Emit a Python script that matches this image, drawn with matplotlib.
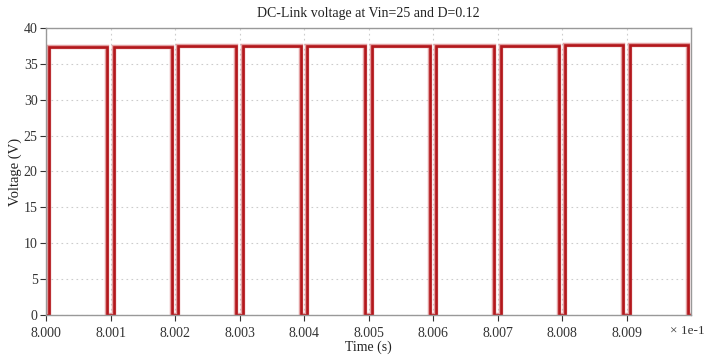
import numpy as np
import matplotlib
matplotlib.use("Agg")
import matplotlib.pyplot as plt

# Data
period_starts = [0.8000, 0.8001, 0.8002, 0.8003, 0.8004, 0.8005, 0.8006, 0.8007, 0.8008, 0.8009]
high_levels = [37.40, 37.42, 37.45, 37.47, 37.50, 37.52, 37.54, 37.56, 37.58, 37.62]
low_level = 0.0
low_half_width = 0.000005  # half-width of the zero-voltage notch (s)
x_tick_values = [0.8000, 0.8001, 0.8002, 0.8003, 0.8004, 0.8005, 0.8006, 0.8007, 0.8008, 0.8009]
x_tick_labels = ["8.000", "8.001", "8.002", "8.003", "8.004", "8.005", "8.006", "8.007", "8.008", "8.009"]
y_ticks = [0, 5, 10, 15, 20, 25, 30, 35, 40]

# build step waveform
t = []
v = []
period = 0.0001
t.append(period_starts[0]); v.append(low_level)
for s, h in zip(period_starts, high_levels):
    rise = s + low_half_width
    fall = s + period - low_half_width
    t += [rise, rise, fall, fall]
    v += [low_level, h, h, low_level]
t.append(period_starts[-1] + period); v.append(low_level)

plt.rcParams['font.family'] = ['Liberation Serif', 'DejaVu Serif']

fig = plt.figure(figsize=(7.08, 3.55), dpi=100)
ax = fig.add_axes([0.065, 0.113, 0.911, 0.808])

ax.plot(t, v, color='#d8777a', lw=3.2, alpha=0.7, solid_joinstyle='miter')
ax.plot(t, v, color='#b3171c', lw=1.9, solid_joinstyle='miter')

ax.set_xlim(0.8000, 0.80100)
ax.set_ylim(0, 40)
ax.set_xticks(x_tick_values)
ax.set_xticklabels(x_tick_labels)
ax.set_yticks(y_ticks)
ax.tick_params(labelsize=10, colors='#333333', length=4, width=0.8)
ax.tick_params(axis='x', pad=5)
ax.tick_params(axis='y', pad=2)
ax.grid(True, color='#cccccc', linestyle=(0, (1.5, 3)), linewidth=0.8)
for sp in ax.spines.values():
    sp.set_color('#999999')
    sp.set_linewidth(1.0)

ax.set_title("DC-Link voltage at Vin=25 and D=0.12", fontsize=10, color='#222222', pad=8)
ax.set_xlabel("Time (s)", fontsize=10, color='#222222', labelpad=0)
ax.set_ylabel("Voltage (V)", fontsize=10.5, color='#222222', labelpad=1)
ax.text(0.968, -0.055, "\u00d7 1e-1", transform=ax.transAxes, fontsize=9.5,
        color='#333333', ha='left', va='center')

fig.savefig("out.png", dpi=100)
